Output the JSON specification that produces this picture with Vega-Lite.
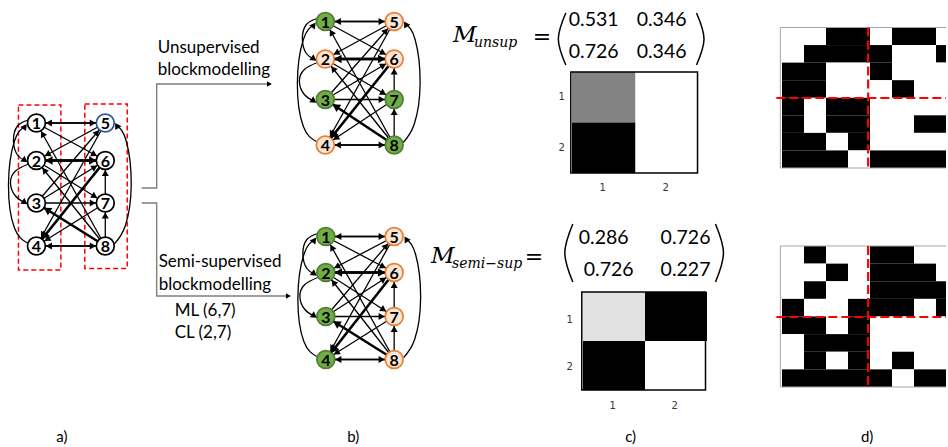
{
"$schema": "https://vega.github.io/schema/vega-lite/v6.json",
"width": 948, "height": 447,
"autosize": {"type": "fit", "contains": "padding"},
"padding": 0,
"background": "white",
"config": {"view": {"stroke": null}},
"datasets": {
"nodes": [
{"k":"a1","n":"1","c":"w","x":36.5,"y":123},{"k":"a2","n":"2","c":"w","x":36.5,"y":160.5},{"k":"a3","n":"3","c":"w","x":36.5,"y":203},{"k":"a4","n":"4","c":"w","x":36.5,"y":246},
{"k":"a5","n":"5","c":"b","x":105.5,"y":123},{"k":"a6","n":"6","c":"w","x":105.5,"y":160.5},{"k":"a7","n":"7","c":"w","x":105.5,"y":203},{"k":"a8","n":"8","c":"w","x":105.5,"y":246},
{"k":"t1","n":"1","c":"g","x":326,"y":21.5},{"k":"t2","n":"2","c":"o","x":326,"y":59},{"k":"t3","n":"3","c":"g","x":326,"y":99.5},{"k":"t4","n":"4","c":"o","x":326,"y":145},
{"k":"t5","n":"5","c":"o","x":395,"y":21.5},{"k":"t6","n":"6","c":"o","x":395,"y":59},{"k":"t7","n":"7","c":"g","x":395,"y":99.5},{"k":"t8","n":"8","c":"g","x":395,"y":145},
{"k":"s1","n":"1","c":"g","x":326.5,"y":236.5},{"k":"s2","n":"2","c":"g","x":326.5,"y":272.5},{"k":"s3","n":"3","c":"g","x":326.5,"y":316.5},{"k":"s4","n":"4","c":"g","x":326.5,"y":359.5},
{"k":"s5","n":"5","c":"o","x":395,"y":236.5},{"k":"s6","n":"6","c":"o","x":395,"y":272.5},{"k":"s7","n":"7","c":"o","x":395,"y":316.5},{"k":"s8","n":"8","c":"o","x":395,"y":359.5}
],
"origins": [{"g":"a","ox":36.5,"oy":123},{"g":"t","ox":326,"oy":21.5},{"g":"s","ox":326.5,"oy":236.5}],
"edges": [
{"s":"1","t":"5","w":"n","g":["a","t","s"]},{"s":"5","t":"1","w":"n","g":["a","t","s"]},{"s":"1","t":"6","w":"n","g":["a","t","s"]},{"s":"8","t":"1","w":"n","g":["a","t","s"]},
{"s":"2","t":"6","w":"t","g":["a","t","s"]},{"s":"6","t":"2","w":"t","g":["a","t","s"]},{"s":"5","t":"2","w":"n","g":["a","t","s"]},{"s":"2","t":"7","w":"n","g":["a","t","s"]},
{"s":"8","t":"2","w":"n","g":["a","t","s"]},{"s":"3","t":"7","w":"n","g":["a","t","s"]},{"s":"8","t":"3","w":"t","g":["a","t","s"]},{"s":"3","t":"5","w":"n","g":["a","t","s"]},
{"s":"3","t":"6","w":"n","g":["a","t","s"]},{"s":"5","t":"4","w":"n","g":["a","t","s"]},{"s":"6","t":"4","w":"t","g":["a","t","s"]},{"s":"7","t":"4","w":"n","g":["a","t","s"]},
{"s":"4","t":"8","w":"n","g":["a","t","s"]},{"s":"8","t":"4","w":"n","g":["a","t","s"]},{"s":"8","t":"7","w":"n","g":["a","t","s"]},{"s":"7","t":"6","w":"n","g":["a","t","s"]}
],
"curves": [
{"c":"12","i":0,"rx":-8,"ry":-3,"g":["a","t","s"]},{"c":"12","i":1,"rx":-19,"ry":3,"g":["a","t","s"]},{"c":"12","i":2,"rx":-23,"ry":18,"g":["a","t","s"]},{"c":"12","i":3,"rx":-19,"ry":32,"g":["a","t","s"]},{"c":"12","i":4,"rx":-11.5,"ry":37.5,"g":["a","t","s"]},
{"c":"41","i":0,"rx":-9,"ry":120,"g":["a","t","s"]},{"c":"41","i":1,"rx":-22,"ry":105,"g":["a","t","s"]},{"c":"41","i":2,"rx":-28,"ry":62,"g":["a","t","s"]},{"c":"41","i":3,"rx":-22,"ry":18,"g":["a","t","s"]},{"c":"41","i":4,"rx":-11.5,"ry":3.5,"g":["a","t","s"]},
{"c":"23","i":0,"rx":-8,"ry":41,"g":["a","t","s"]},{"c":"23","i":1,"rx":-21,"ry":48,"g":["a","t","s"]},{"c":"23","i":2,"rx":-26,"ry":60,"g":["a","t","s"]},{"c":"23","i":3,"rx":-21,"ry":73,"g":["a","t","s"]},{"c":"23","i":4,"rx":-11.5,"ry":79.5,"g":["a","t","s"]},
{"c":"85","i":0,"rx":78,"ry":121,"g":["a","t","s"]},{"c":"85","i":1,"rx":89,"ry":103,"g":["a","t","s"]},{"c":"85","i":2,"rx":95,"ry":62,"g":["a","t","s"]},{"c":"85","i":3,"rx":90,"ry":18,"g":["a","t","s"]},{"c":"85","i":4,"rx":80.5,"ry":2.5,"g":["a","t","s"]}
],
"conn": [
{"p":"u","i":0,"x":142,"y":188},{"p":"u","i":1,"x":157,"y":188},{"p":"u","i":2,"x":157,"y":84},{"p":"u","i":3,"x":270,"y":84},
{"p":"l","i":0,"x":142,"y":203},{"p":"l","i":1,"x":157,"y":203},{"p":"l","i":2,"x":157,"y":296},{"p":"l","i":3,"x":289,"y":296}
],
"parens": [
{"p":"ul","i":0,"x":567,"y":13},{"p":"ul","i":1,"x":559.5,"y":39},{"p":"ul","i":2,"x":567,"y":65},
{"p":"ur","i":0,"x":698,"y":13},{"p":"ur","i":1,"x":705.5,"y":39},{"p":"ur","i":2,"x":698,"y":65},
{"p":"bl","i":0,"x":574,"y":224},{"p":"bl","i":1,"x":566,"y":253},{"p":"bl","i":2,"x":574,"y":282},
{"p":"br","i":0,"x":717,"y":224},{"p":"br","i":1,"x":725,"y":253},{"p":"br","i":2,"x":717,"y":282}
],
"texts": [
{"role":"lab","t":"Unsupervised","x":158,"y":53},{"role":"lab","t":"blockmodelling","x":158,"y":75},
{"role":"lab","t":"Semi-supervised","x":159,"y":267},{"role":"lab","t":"blockmodelling","x":159,"y":290},
{"role":"lab","t":"ML (6,7)","x":175,"y":316},{"role":"lab","t":"CL (2,7)","x":175,"y":338},
{"role":"pl","t":"a)","x":62,"y":437},{"role":"pl","t":"b)","x":354,"y":437},{"role":"pl","t":"c)","x":632,"y":437},{"role":"pl","t":"d)","x":869,"y":437},
{"role":"num","t":"0.531","x":570,"y":20},{"role":"num","t":"0.346","x":638,"y":20},{"role":"num","t":"0.726","x":570,"y":52},{"role":"num","t":"0.346","x":638,"y":52},
{"role":"num","t":"0.286","x":580,"y":238},{"role":"num","t":"0.726","x":662,"y":238},{"role":"num","t":"0.726","x":585,"y":270},{"role":"num","t":"0.227","x":662,"y":270},
{"role":"M","t":"M","x":454,"y":42},{"role":"M","t":"M","x":432,"y":263},
{"role":"sub","t":"unsup","x":475,"y":47},{"role":"sub","t":"semi−sup","x":453,"y":268},
{"role":"eq","t":"=","x":543,"y":37},{"role":"eq","t":"=","x":535,"y":257},
{"role":"tick","t":"1","x":563,"y":97},{"role":"tick","t":"2","x":563,"y":148},{"role":"tick","t":"1","x":604,"y":188},{"role":"tick","t":"2","x":667,"y":188},
{"role":"tick","t":"1","x":571,"y":320},{"role":"tick","t":"2","x":571,"y":367},{"role":"tick","t":"1","x":614,"y":406},{"role":"tick","t":"2","x":676,"y":406}
],
"frames": [
{"role":"hm","x":572,"y":72,"x2":699,"y2":173},{"role":"hm","x":583,"y":292,"x2":707,"y2":390},
{"role":"mat","x":782,"y":27.5,"x2":958,"y2":168},{"role":"mat","x":782,"y":246,"x2":958,"y2":387},
{"role":"red","x":18.5,"y":105,"x2":61,"y2":270},{"role":"red","x":85,"y":104,"x2":127.5,"y2":268.5}
],
"dash": [
{"x":870,"y":27.5,"x2":870,"y2":168},{"x":778,"y":98,"x2":948,"y2":98},
{"x":870,"y":246,"x2":870,"y2":387},{"x":778,"y":317,"x2":948,"y2":317}
],
"hm": [
{"m":"u","r":1,"c":1,"v":0.531},{"m":"u","r":1,"c":2,"v":0.346},{"m":"u","r":2,"c":1,"v":0.726},{"m":"u","r":2,"c":2,"v":0.346},
{"m":"s","r":1,"c":1,"v":0.286},{"m":"s","r":1,"c":2,"v":0.726},{"m":"s","r":2,"c":1,"v":0.726},{"m":"s","r":2,"c":2,"v":0.227}
],
"mat": [
{"m":"t","r":0,"c":0,"v":0},{"m":"t","r":0,"c":1,"v":0},{"m":"t","r":0,"c":2,"v":1},{"m":"t","r":0,"c":3,"v":1},{"m":"t","r":0,"c":4,"v":0},{"m":"t","r":0,"c":5,"v":1},{"m":"t","r":0,"c":6,"v":1},{"m":"t","r":0,"c":7,"v":0},
{"m":"t","r":1,"c":0,"v":0},{"m":"t","r":1,"c":1,"v":1},{"m":"t","r":1,"c":2,"v":1},{"m":"t","r":1,"c":3,"v":1},{"m":"t","r":1,"c":4,"v":1},{"m":"t","r":1,"c":5,"v":0},{"m":"t","r":1,"c":6,"v":0},{"m":"t","r":1,"c":7,"v":1},
{"m":"t","r":2,"c":0,"v":1},{"m":"t","r":2,"c":1,"v":1},{"m":"t","r":2,"c":2,"v":0},{"m":"t","r":2,"c":3,"v":0},{"m":"t","r":2,"c":4,"v":1},{"m":"t","r":2,"c":5,"v":0},{"m":"t","r":2,"c":6,"v":0},{"m":"t","r":2,"c":7,"v":0},
{"m":"t","r":3,"c":0,"v":1},{"m":"t","r":3,"c":1,"v":1},{"m":"t","r":3,"c":2,"v":0},{"m":"t","r":3,"c":3,"v":0},{"m":"t","r":3,"c":4,"v":0},{"m":"t","r":3,"c":5,"v":1},{"m":"t","r":3,"c":6,"v":0},{"m":"t","r":3,"c":7,"v":0},
{"m":"t","r":4,"c":0,"v":1},{"m":"t","r":4,"c":1,"v":0},{"m":"t","r":4,"c":2,"v":1},{"m":"t","r":4,"c":3,"v":1},{"m":"t","r":4,"c":4,"v":0},{"m":"t","r":4,"c":5,"v":0},{"m":"t","r":4,"c":6,"v":0},{"m":"t","r":4,"c":7,"v":0},
{"m":"t","r":5,"c":0,"v":1},{"m":"t","r":5,"c":1,"v":0},{"m":"t","r":5,"c":2,"v":1},{"m":"t","r":5,"c":3,"v":1},{"m":"t","r":5,"c":4,"v":0},{"m":"t","r":5,"c":5,"v":0},{"m":"t","r":5,"c":6,"v":1},{"m":"t","r":5,"c":7,"v":1},
{"m":"t","r":6,"c":0,"v":1},{"m":"t","r":6,"c":1,"v":1},{"m":"t","r":6,"c":2,"v":0},{"m":"t","r":6,"c":3,"v":1},{"m":"t","r":6,"c":4,"v":0},{"m":"t","r":6,"c":5,"v":0},{"m":"t","r":6,"c":6,"v":0},{"m":"t","r":6,"c":7,"v":0},
{"m":"t","r":7,"c":0,"v":1},{"m":"t","r":7,"c":1,"v":1},{"m":"t","r":7,"c":2,"v":1},{"m":"t","r":7,"c":3,"v":0},{"m":"t","r":7,"c":4,"v":1},{"m":"t","r":7,"c":5,"v":1},{"m":"t","r":7,"c":6,"v":1},{"m":"t","r":7,"c":7,"v":1},
{"m":"b","r":0,"c":0,"v":0},{"m":"b","r":0,"c":1,"v":1},{"m":"b","r":0,"c":2,"v":0},{"m":"b","r":0,"c":3,"v":0},{"m":"b","r":0,"c":4,"v":1},{"m":"b","r":0,"c":5,"v":1},{"m":"b","r":0,"c":6,"v":0},{"m":"b","r":0,"c":7,"v":0},
{"m":"b","r":1,"c":0,"v":0},{"m":"b","r":1,"c":1,"v":0},{"m":"b","r":1,"c":2,"v":1},{"m":"b","r":1,"c":3,"v":0},{"m":"b","r":1,"c":4,"v":1},{"m":"b","r":1,"c":5,"v":1},{"m":"b","r":1,"c":6,"v":1},{"m":"b","r":1,"c":7,"v":0},
{"m":"b","r":2,"c":0,"v":0},{"m":"b","r":2,"c":1,"v":1},{"m":"b","r":2,"c":2,"v":0},{"m":"b","r":2,"c":3,"v":0},{"m":"b","r":2,"c":4,"v":1},{"m":"b","r":2,"c":5,"v":1},{"m":"b","r":2,"c":6,"v":1},{"m":"b","r":2,"c":7,"v":1},
{"m":"b","r":3,"c":0,"v":1},{"m":"b","r":3,"c":1,"v":0},{"m":"b","r":3,"c":2,"v":0},{"m":"b","r":3,"c":3,"v":1},{"m":"b","r":3,"c":4,"v":1},{"m":"b","r":3,"c":5,"v":1},{"m":"b","r":3,"c":6,"v":0},{"m":"b","r":3,"c":7,"v":1},
{"m":"b","r":4,"c":0,"v":1},{"m":"b","r":4,"c":1,"v":1},{"m":"b","r":4,"c":2,"v":0},{"m":"b","r":4,"c":3,"v":1},{"m":"b","r":4,"c":4,"v":0},{"m":"b","r":4,"c":5,"v":0},{"m":"b","r":4,"c":6,"v":0},{"m":"b","r":4,"c":7,"v":0},
{"m":"b","r":5,"c":0,"v":0},{"m":"b","r":5,"c":1,"v":1},{"m":"b","r":5,"c":2,"v":1},{"m":"b","r":5,"c":3,"v":1},{"m":"b","r":5,"c":4,"v":0},{"m":"b","r":5,"c":5,"v":0},{"m":"b","r":5,"c":6,"v":0},{"m":"b","r":5,"c":7,"v":0},
{"m":"b","r":6,"c":0,"v":0},{"m":"b","r":6,"c":1,"v":1},{"m":"b","r":6,"c":2,"v":0},{"m":"b","r":6,"c":3,"v":1},{"m":"b","r":6,"c":4,"v":0},{"m":"b","r":6,"c":5,"v":1},{"m":"b","r":6,"c":6,"v":0},{"m":"b","r":6,"c":7,"v":0},
{"m":"b","r":7,"c":0,"v":1},{"m":"b","r":7,"c":1,"v":1},{"m":"b","r":7,"c":2,"v":1},{"m":"b","r":7,"c":3,"v":1},{"m":"b","r":7,"c":4,"v":1},{"m":"b","r":7,"c":5,"v":0},{"m":"b","r":7,"c":6,"v":1},{"m":"b","r":7,"c":7,"v":1}
]
},
"layer": [
{
"data": {"name": "hm"},
"transform": [{"filter": "datum.m == 'u'"}],
"mark": {"type": "rect"},
"encoding": {
"x": {"field": "c", "type": "ordinal", "scale": {"range": [572, 699], "paddingInner": 0, "paddingOuter": 0}, "axis": null},
"y": {"field": "r", "type": "ordinal", "scale": {"range": [72, 173], "paddingInner": 0, "paddingOuter": 0}, "axis": null},
"color": {"field": "v", "type": "quantitative", "scale": {"domain": [0.346, 0.726], "range": ["#ffffff", "#000000"], "interpolate": "rgb"}, "legend": null}
}
},
{
"data": {"name": "hm"},
"transform": [{"filter": "datum.m == 's'"}],
"mark": {"type": "rect"},
"encoding": {
"x": {"field": "c", "type": "ordinal", "scale": {"range": [583, 707], "paddingInner": 0, "paddingOuter": 0}, "axis": null},
"y": {"field": "r", "type": "ordinal", "scale": {"range": [292, 390], "paddingInner": 0, "paddingOuter": 0}, "axis": null},
"color": {"field": "v", "type": "quantitative", "scale": {"domain": [0.227, 0.726], "range": ["#ffffff", "#000000"], "interpolate": "rgb"}, "legend": null}
}
},
{
"data": {"name": "mat"},
"transform": [{"filter": "datum.m == 't'"}],
"mark": {"type": "rect", "clip": true},
"encoding": {
"x": {"field": "c", "type": "ordinal", "scale": {"range": [782, 958], "paddingInner": 0, "paddingOuter": 0}, "axis": null},
"y": {"field": "r", "type": "ordinal", "scale": {"range": [27.5, 168], "paddingInner": 0, "paddingOuter": 0}, "axis": null},
"color": {"field": "v", "type": "quantitative", "scale": {"domain": [0, 1], "range": ["#ffffff", "#000000"]}, "legend": null}
}
},
{
"data": {"name": "mat"},
"transform": [{"filter": "datum.m == 'b'"}],
"mark": {"type": "rect", "clip": true},
"encoding": {
"x": {"field": "c", "type": "ordinal", "scale": {"range": [782, 958], "paddingInner": 0, "paddingOuter": 0}, "axis": null},
"y": {"field": "r", "type": "ordinal", "scale": {"range": [246, 387], "paddingInner": 0, "paddingOuter": 0}, "axis": null},
"color": {"field": "v", "type": "quantitative", "scale": {"domain": [0, 1], "range": ["#ffffff", "#000000"]}, "legend": null}
}
},
{
"encoding": {
"x": {"field": "x", "type": "quantitative", "scale": {"domain": [0, 948], "nice": false, "zero": false}, "axis": null},
"y": {"field": "y", "type": "quantitative", "scale": {"domain": [0, 447], "nice": false, "zero": false, "reverse": true}, "axis": null}
},
"layer": [
{
"data": {"name": "frames"},
"transform": [{"filter": "datum.role == 'red'"}],
"mark": {"type": "rect", "fillOpacity": 0, "stroke": "#ff0000", "strokeWidth": 1.5, "strokeDash": [5, 3]},
"encoding": {"x2": {"field": "x2"}, "y2": {"field": "y2"}}
},
{
"data": {"name": "edges"},
"transform": [
{"flatten": ["g"]},
{"calculate": "datum.g + datum.s", "as": "ks"},
{"calculate": "datum.g + datum.t", "as": "kt"},
{"lookup": "ks", "from": {"data": {"name": "nodes"}, "key": "k", "fields": ["x", "y"]}, "as": ["x", "y"]},
{"lookup": "kt", "from": {"data": {"name": "nodes"}, "key": "k", "fields": ["x", "y"]}, "as": ["x2", "y2"]}
],
"mark": {"type": "rule", "color": "#000000"},
"encoding": {
"x2": {"field": "x2"}, "y2": {"field": "y2"},
"strokeWidth": {"field": "w", "type": "ordinal", "scale": {"domain": ["n", "t"], "range": [1.3, 2.6]}, "legend": null}
}
},
{
"data": {"name": "curves"},
"transform": [
{"flatten": ["g"]},
{"lookup": "g", "from": {"data": {"name": "origins"}, "key": "g", "fields": ["ox", "oy"]}},
{"calculate": "datum.ox + datum.rx", "as": "x"},
{"calculate": "datum.oy + datum.ry", "as": "y"},
{"calculate": "datum.g + datum.c", "as": "cg"}
],
"mark": {"type": "line", "interpolate": "natural", "color": "#000000", "strokeWidth": 1.3},
"encoding": {"detail": {"field": "cg"}, "order": {"field": "i", "type": "quantitative"}}
},
{
"data": {"name": "conn"},
"mark": {"type": "line", "color": "#7f7f7f", "strokeWidth": 1.4},
"encoding": {"detail": {"field": "p"}, "order": {"field": "i", "type": "quantitative"}}
},
{
"data": {"name": "nodes"},
"mark": {"type": "point", "shape": "circle", "filled": true, "size": 320, "strokeWidth": 1.7, "opacity": 1},
"encoding": {
"fill": {"field": "c", "type": "nominal", "scale": {"domain": ["w", "b", "g", "o"], "range": ["#ffffff", "#ffffff", "#70AD47", "#FBE5D6"]}, "legend": null},
"stroke": {"field": "c", "type": "nominal", "scale": {"domain": ["w", "b", "g", "o"], "range": ["#000000", "#2F5597", "#507E32", "#ED7D31"]}, "legend": null}
}
},
{
"data": {"name": "edges"},
"transform": [
{"flatten": ["g"]},
{"calculate": "datum.g + datum.s", "as": "ks"},
{"calculate": "datum.g + datum.t", "as": "kt"},
{"lookup": "ks", "from": {"data": {"name": "nodes"}, "key": "k", "fields": ["x", "y"]}, "as": ["x", "y"]},
{"lookup": "kt", "from": {"data": {"name": "nodes"}, "key": "k", "fields": ["x", "y"]}, "as": ["x2", "y2"]},
{"calculate": "datum.x2 - datum.x", "as": "dx"},
{"calculate": "datum.y2 - datum.y", "as": "dy"},
{"calculate": "sqrt(datum.dx*datum.dx + datum.dy*datum.dy)", "as": "len"},
{"calculate": "atan2(datum.dx, -datum.dy) * 180 / PI", "as": "ang"},
{"calculate": "datum.x2 - 12.5*datum.dx/datum.len", "as": "x"},
{"calculate": "datum.y2 - 12.5*datum.dy/datum.len", "as": "y"}
],
"mark": {"type": "point", "shape": "triangle-up", "filled": true, "color": "#000000", "opacity": 1},
"encoding": {
"angle": {"field": "ang", "type": "quantitative", "scale": null},
"size": {"field": "w", "type": "ordinal", "scale": {"domain": ["n", "t"], "range": [50, 75]}, "legend": null}
}
},
{
"data": {"name": "curves"},
"transform": [
{"flatten": ["g"]},
{"lookup": "g", "from": {"data": {"name": "origins"}, "key": "g", "fields": ["ox", "oy"]}},
{"calculate": "datum.ox + datum.rx", "as": "x"},
{"calculate": "datum.oy + datum.ry", "as": "y"},
{"calculate": "datum.g + datum.c", "as": "cg"},
{"window": [{"op": "lag", "field": "x", "as": "px"}, {"op": "lag", "field": "y", "as": "py"}], "groupby": ["cg"], "sort": [{"field": "i", "order": "ascending"}]},
{"filter": "datum.i == 4"},
{"calculate": "atan2(datum.x - datum.px, datum.py - datum.y) * 180 / PI", "as": "ang"}
],
"mark": {"type": "point", "shape": "triangle-up", "filled": true, "color": "#000000", "opacity": 1, "size": 50},
"encoding": {"angle": {"field": "ang", "type": "quantitative", "scale": null}}
},
{
"data": {"name": "conn"},
"transform": [
{"window": [{"op": "lag", "field": "x", "as": "px"}, {"op": "lag", "field": "y", "as": "py"}], "groupby": ["p"], "sort": [{"field": "i", "order": "ascending"}]},
{"filter": "datum.i == 3"},
{"calculate": "atan2(datum.x - datum.px, datum.py - datum.y) * 180 / PI", "as": "ang"}
],
"mark": {"type": "point", "shape": "triangle-up", "filled": true, "color": "#000000", "opacity": 1, "size": 32},
"encoding": {"angle": {"field": "ang", "type": "quantitative", "scale": null}}
},
{
"data": {"name": "nodes"},
"mark": {"type": "text", "font": "Lato", "fontWeight": "bold", "fontSize": 16, "align": "center", "baseline": "middle", "dy": 1, "fill": "#000000"},
"encoding": {"text": {"field": "n"}}
},
{
"data": {"name": "texts"},
"transform": [{"filter": "datum.role == 'lab'"}],
"mark": {"type": "text", "font": "Lato", "fontSize": 17, "align": "left", "baseline": "alphabetic", "fill": "#000000"},
"encoding": {"text": {"field": "t"}}
},
{
"data": {"name": "texts"},
"transform": [{"filter": "datum.role == 'pl'"}],
"mark": {"type": "text", "font": "Lato", "fontSize": 15, "align": "center", "baseline": "middle", "fill": "#000000"},
"encoding": {"text": {"field": "t"}}
},
{
"data": {"name": "texts"},
"transform": [{"filter": "datum.role == 'num'"}],
"mark": {"type": "text", "font": "Lato", "fontSize": 19.5, "align": "left", "baseline": "middle", "fill": "#000000"},
"encoding": {"text": {"field": "t"}}
},
{
"data": {"name": "texts"},
"transform": [{"filter": "datum.role == 'M'"}],
"mark": {"type": "text", "font": "DejaVu Serif", "fontStyle": "italic", "fontSize": 23, "align": "left", "baseline": "alphabetic", "fill": "#000000"},
"encoding": {"text": {"field": "t"}}
},
{
"data": {"name": "texts"},
"transform": [{"filter": "datum.role == 'sub'"}],
"mark": {"type": "text", "font": "DejaVu Serif", "fontStyle": "italic", "fontSize": 14, "align": "left", "baseline": "alphabetic", "fill": "#000000"},
"encoding": {"text": {"field": "t"}}
},
{
"data": {"name": "texts"},
"transform": [{"filter": "datum.role == 'eq'"}],
"mark": {"type": "text", "font": "DejaVu Serif", "fontSize": 22, "align": "center", "baseline": "middle", "fill": "#000000"},
"encoding": {"text": {"field": "t"}}
},
{
"data": {"name": "texts"},
"transform": [{"filter": "datum.role == 'tick'"}],
"mark": {"type": "text", "font": "DejaVu Sans", "fontSize": 10, "align": "center", "baseline": "middle", "fill": "#333333"},
"encoding": {"text": {"field": "t"}}
},
{
"data": {"name": "parens"},
"mark": {"type": "line", "interpolate": "natural", "color": "#000000", "strokeWidth": 1.5},
"encoding": {"detail": {"field": "p"}, "order": {"field": "i", "type": "quantitative"}}
},
{
"data": {"name": "frames"},
"transform": [{"filter": "datum.role == 'hm'"}],
"mark": {"type": "rect", "fillOpacity": 0, "stroke": "#000000", "strokeWidth": 1.5},
"encoding": {"x2": {"field": "x2"}, "y2": {"field": "y2"}}
},
{
"data": {"name": "frames"},
"transform": [{"filter": "datum.role == 'mat'"}],
"mark": {"type": "rect", "fillOpacity": 0, "stroke": "#a6a6a6", "strokeWidth": 1, "clip": true},
"encoding": {"x2": {"field": "x2"}, "y2": {"field": "y2"}}
},
{
"data": {"name": "dash"},
"mark": {"type": "rule", "color": "#ff0000", "strokeWidth": 2.2, "strokeDash": [9, 4]},
"encoding": {"x2": {"field": "x2"}, "y2": {"field": "y2"}}
}
]
}
],
"resolve": {"scale": {"x": "independent", "y": "independent", "color": "independent"}}
}
